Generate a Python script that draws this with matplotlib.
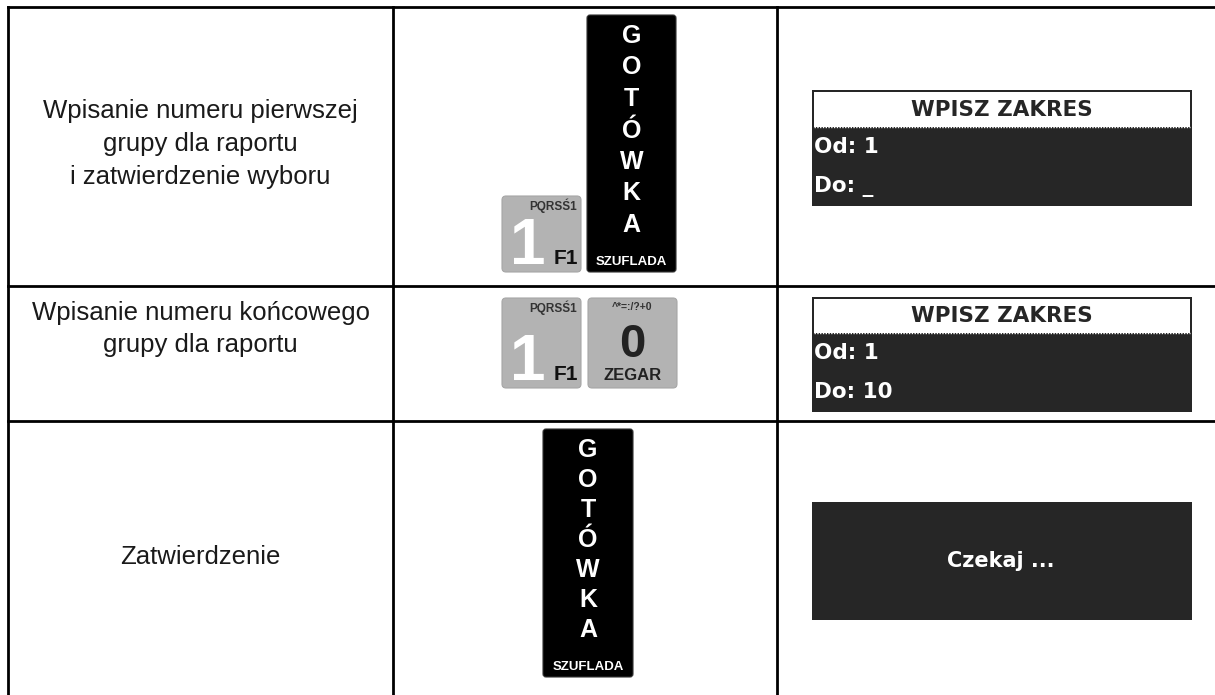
import matplotlib
matplotlib.use("Agg")
import matplotlib.pyplot as plt
from matplotlib.patches import FancyBboxPatch, Rectangle

# ---- content ----
step_texts = [
    "Wpisanie numeru pierwszej\ngrupy dla raportu\ni zatwierdzenie wyboru",
    "Wpisanie numeru końcowego\ngrupy dla raportu",
    "Zatwierdzenie",
]
cash_letters = ["G", "O", "T", "Ó", "W", "K", "A"]
cash_sub = "SZUFLADA"
key1_labels = ["PQRSŚ1", "1", "F1"]
key0_labels = ["^*=:/?+0", "0", "ZEGAR"]
screen_title = "WPISZ ZAKRES"
screen1_lines = ["Od: 1", "Do: _"]
screen2_lines = ["Od: 1", "Do: 10"]
screen3_text = "Czekaj ..."

# ---- layout (pixels) ----
W, H = 1215, 695
fig = plt.figure(figsize=(W / 100, H / 100), dpi=100)
ax = fig.add_axes([0, 0, 1, 1])
ax.set_xlim(0, W)
ax.set_ylim(H, 0)
ax.axis("off")

TXT = "#1a1a1a"
DARK = "#262626"
GRAY = "#b3b3b3"
SCREEN_FONT = ["DejaVu Sans"]
LW = 2.0

x_left, x_c1, x_c2, x_right = 8, 393, 777, 1228
y_top, y_r1, y_r2, y_bot = 7, 286, 421, 699

for y in (y_top, y_r1, y_r2, y_bot):
    ax.plot([x_left, x_right], [y, y], color="black", lw=LW, solid_capstyle="projecting", clip_on=False)
for x in (x_left, x_c1, x_c2, x_right):
    ax.plot([x, x], [y_top, y_bot], color="black", lw=LW, solid_capstyle="projecting", clip_on=False)

# ---- column 1 texts ----
col1_x = (x_left + x_c1) / 2
for txt, yc in zip(step_texts, [144, 329, 557]):
    ax.text(col1_x, yc, txt, ha="center", va="center", fontsize=18.5,
            family="Liberation Sans", color=TXT, linespacing=1.45)


# ---- keys ----
def cash_key(x0, y0, x1, y1):
    ax.add_patch(FancyBboxPatch((x0, y0), x1 - x0, y1 - y0,
                                boxstyle="round,pad=0,rounding_size=3",
                                fc="black", ec="#333333", lw=0.8))
    xc = (x0 + x1) / 2
    n = len(cash_letters)
    ys = y0 + 21
    ye = y1 - 47
    for i, ch in enumerate(cash_letters):
        yy = ys + (ye - ys) * i / (n - 1)
        ax.text(xc, yy, ch, ha="center", va="center", color="white",
                fontsize=18, fontweight="bold", family="Liberation Sans")
    ax.text(xc, y1 - 10, cash_sub, ha="center", va="center", color="white",
            fontsize=9.5, fontweight="bold",
            family=["Liberation Sans Narrow", "Liberation Sans"])


def key_one(x0, y0, x1, y1):
    ax.add_patch(FancyBboxPatch((x0, y0), x1 - x0, y1 - y0,
                                boxstyle="round,pad=0,rounding_size=4",
                                fc=GRAY, ec="#a6a6a6", lw=0.8))
    ax.text(x1 - 4, y0 + 10, key1_labels[0], ha="right", va="center",
            color="#333333", fontsize=8.5, fontweight="bold", family="Liberation Sans")
    ax.text(x0 + 8, y1 - 8, key1_labels[1], ha="left", va="baseline",
            color="white", fontsize=46, fontweight="bold", family="Liberation Sans")
    ax.text(x1 - 3, y1 - 8, key1_labels[2], ha="right", va="baseline",
            color="#111111", fontsize=15, fontweight="bold", family="Liberation Sans")


def key_zero(x0, y0, x1, y1):
    ax.add_patch(FancyBboxPatch((x0, y0), x1 - x0, y1 - y0,
                                boxstyle="round,pad=0,rounding_size=4",
                                fc=GRAY, ec="#a6a6a6", lw=0.8))
    xc = (x0 + x1) / 2
    ax.text(xc, y0 + 9, key0_labels[0], ha="center", va="center",
            color="#333333", fontsize=7.5, fontweight="bold", family="Liberation Sans")
    ax.text(xc, y0 + 47, key0_labels[1], ha="center", va="center",
            color="#222222", fontsize=34, fontweight="bold", family="Liberation Sans")
    ax.text(xc, y1 - 12, key0_labels[2], ha="center", va="center",
            color="#222222", fontsize=12, fontweight="bold", family="Liberation Sans")


# row 1
key_one(502, 196, 581, 272)
cash_key(587, 15, 676, 272)
# row 2
key_one(502, 298, 581, 388)
key_zero(588, 298, 677, 388)
# row 3
cash_key(543, 429, 633, 677)


# ---- screens ----
def screen_menu(x0, y0, x1, y1, yh, lines):
    ax.add_patch(Rectangle((x0, y0), x1 - x0, y1 - y0, fc=DARK, ec="none"))
    ax.add_patch(Rectangle((x0 + 2, y0 + 2), x1 - x0 - 4, yh - y0 - 2, fc="white", ec="none"))
    ax.plot([x0 + 2, x1 - 2], [yh, yh], color="white", lw=1.0, ls=(0, (1, 1)))
    ax.text((x0 + x1) / 2, (y0 + yh) / 2 + 1, screen_title, ha="center", va="center",
            color=DARK, fontsize=15.5, fontweight="bold", family=SCREEN_FONT)
    n = len(lines)
    for i, t in enumerate(lines):
        yy = yh + (y1 - yh) * (i + 0.5) / n
        ax.text(x0 + 2, yy, t, ha="left", va="center", color="white",
                fontsize=15.5, fontweight="bold", family=SCREEN_FONT)


screen_menu(812, 90, 1192, 206, 127, screen1_lines)
screen_menu(812, 297, 1192, 412, 333, screen2_lines)

ax.add_patch(Rectangle((812, 502), 1192 - 812, 620 - 502, fc=DARK, ec="none"))
ax.text(1001, 561, screen3_text, ha="center", va="center", color="white",
        fontsize=15, fontweight="bold", family=SCREEN_FONT)

fig.savefig("out.png", dpi=100, facecolor="white")
